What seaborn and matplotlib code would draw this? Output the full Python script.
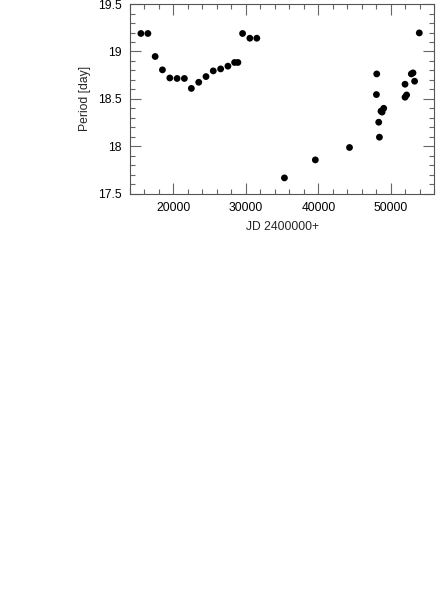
import matplotlib
matplotlib.use('Agg')
import matplotlib.pyplot as plt
import pandas as pd
import seaborn as sns
from matplotlib.ticker import MultipleLocator, FuncFormatter

# Pulsation period vs. Julian date
jd = [15516, 16479, 17483, 18487, 19505, 20509, 21513, 22476, 23494, 24498,
      25502, 26520, 27524, 28446, 28900, 29546, 30550, 31513,
      35323, 39587, 44305,
      48060, 48019, 48336, 48432, 48650, 48800, 49024,
      51967, 51967, 52187, 52833, 53067, 53288, 53934]
period = [19.19, 19.19, 18.947, 18.806, 18.72, 18.715, 18.715, 18.61, 18.675, 18.735,
          18.795, 18.816, 18.845, 18.884, 18.884, 19.19, 19.14, 19.14,
          17.665, 17.855, 17.986,
          18.763, 18.545, 18.253, 18.095, 18.37, 18.36, 18.40,
          18.654, 18.517, 18.541, 18.763, 18.774, 18.686, 19.196]

df = pd.DataFrame({'jd': jd, 'period': period})

sns.set_style('ticks')
plt.rcParams['font.family'] = ['Liberation Sans', 'DejaVu Sans']

fig = plt.figure(figsize=(4.36, 5.90), dpi=100)
ax = fig.add_axes([0.298, 0.672, 0.698, 0.321])

sns.scatterplot(data=df, x='jd', y='period', ax=ax, color='black',
                s=24, edgecolor='none', linewidth=0)

ax.set_xlim(14000, 56000)
ax.set_ylim(17.5, 19.5)
ax.xaxis.set_major_locator(MultipleLocator(10000))
ax.xaxis.set_minor_locator(MultipleLocator(2000))
ax.yaxis.set_major_locator(MultipleLocator(0.5))
ax.yaxis.set_minor_locator(MultipleLocator(0.1))
ax.yaxis.set_major_formatter(FuncFormatter(lambda v, p: f'{v:g}'))

ax.tick_params(which='both', direction='in', top=True, right=True,
               color='#666666', labelsize=8.7, labelcolor='black')
ax.tick_params(which='major', length=8, width=0.8, pad=6)
ax.tick_params(which='minor', length=3.5, width=0.8)
for sp in ax.spines.values():
    sp.set_visible(True)
    sp.set_color('#555555')
    sp.set_linewidth(0.8)

ax.set_xlabel('JD 2400000+', fontsize=8.7, labelpad=5)
ax.set_ylabel('Period [day]', fontsize=8.7, labelpad=5)

fig.savefig('out.png', dpi=100)
